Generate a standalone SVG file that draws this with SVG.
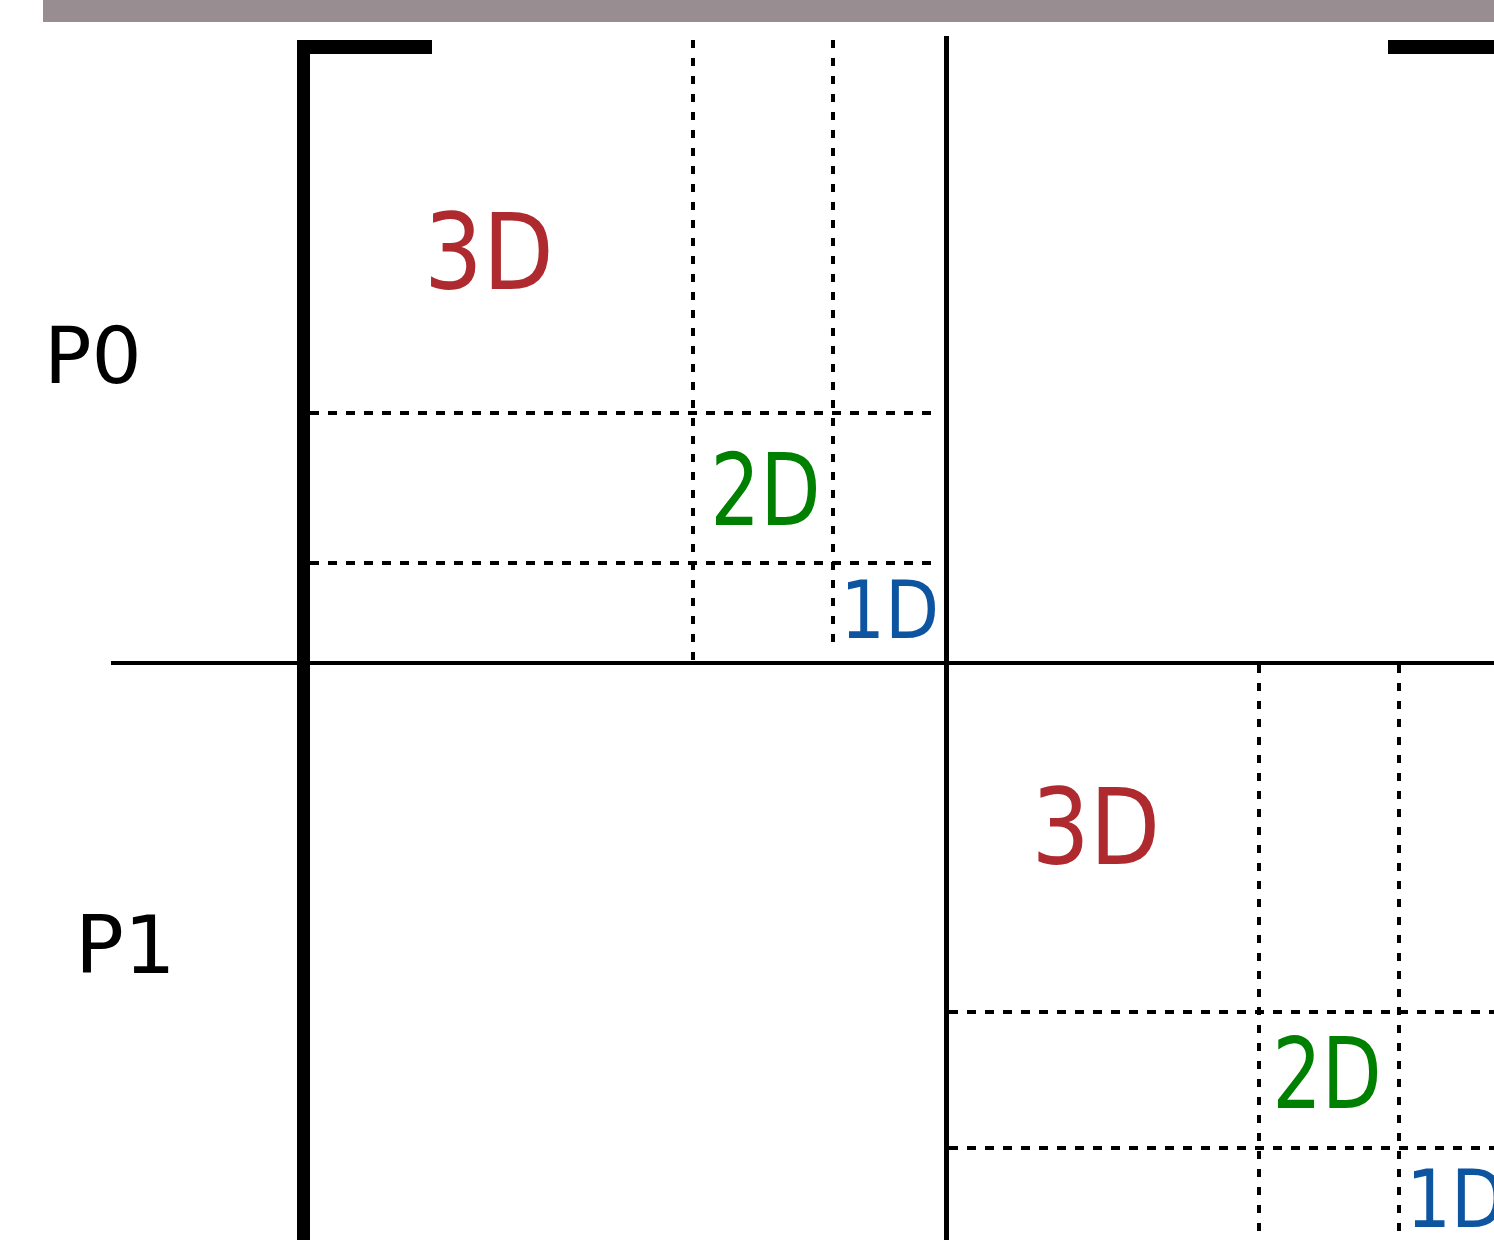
<svg xmlns="http://www.w3.org/2000/svg" width="1494" height="1240" viewBox="0 0 1494 1240">
<style>
.t{font-family:"DejaVu Sans",sans-serif}
.d3{fill:#ae2a2e}
.d2{fill:#008000}
.d1{fill:#0d55a0}
.p{fill:#000}
.dv{stroke:#000;stroke-width:4;stroke-dasharray:8 10;fill:none}
.dh{stroke:#000;stroke-width:4;stroke-dasharray:9 9;fill:none}
</style>
<rect x="0" y="0" width="1494" height="1240" fill="#fff"/>
<rect x="43" y="0" width="1451" height="22" fill="#988d90"/>
<g id="connectors">
<path stroke="#000" stroke-width="5" fill="none" d="M946.5 36V1240"/>
<path stroke="#000" stroke-width="4" fill="none" d="M111 663H1494"/>
<path fill="#000" d="M297 40H432V54H310V1240H297Z"/>
<rect x="1388" y="40" width="106" height="14" fill="#000"/>
<path class="dv" d="M693 40V660M833 40V648"/>
<path class="dh" d="M310 413H935M310 563H940"/>
<path class="dv" d="M1259 665V1240M1399 665V1240"/>
<path class="dh" d="M949 1012H1494M949 1148H1494"/>
</g>
<g id="label-p0"><text class="t p" font-size="78.2" transform="translate(44 383) scale(1.01 1)">P0</text></g>
<g id="label-p1"><text class="t p" font-size="79.6" transform="translate(75 973) scale(1.02 1)">P1</text></g>
<g id="block0-3d"><text class="t d3" font-size="105.6" transform="translate(424 289) scale(0.874 1)">3D</text></g>
<g id="block0-2d"><text class="t d2" font-size="100.1" transform="translate(710.3 525) scale(0.784 1)">2D</text></g>
<g id="block0-1d"><text class="t d1" font-size="80.9" transform="translate(840.3 638) scale(0.869 1)">1D</text></g>
<g id="block1-3d"><text class="t d3" font-size="104.3" transform="translate(1031.5 864) scale(0.877 1)">3D</text></g>
<g id="block1-2d"><text class="t d2" font-size="97.4" transform="translate(1272.3 1108) scale(0.8 1)">2D</text></g>
<g id="block1-1d"><text class="t d1" font-size="80.9" transform="translate(1406.3 1227) scale(0.869 1)">1D</text></g>
</svg>
